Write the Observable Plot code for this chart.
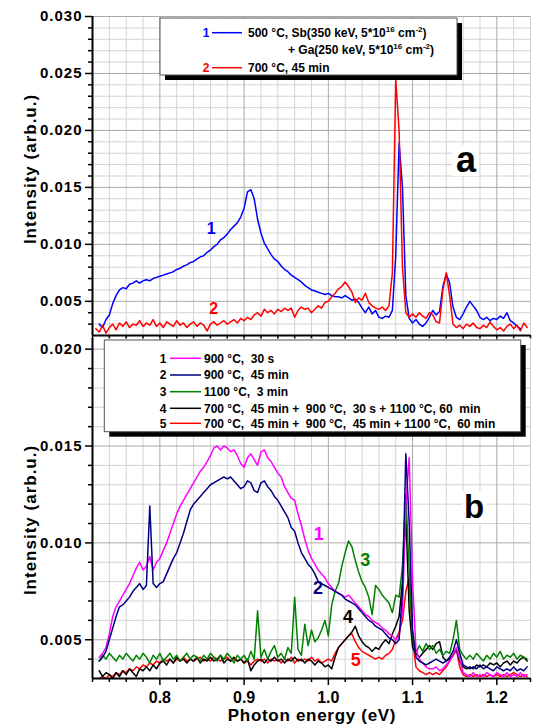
<!DOCTYPE html>
<html><head><meta charset="utf-8">
<script src="https://cdn.jsdelivr.net/npm/d3@7"></script>
<script src="https://cdn.jsdelivr.net/npm/@observablehq/plot@0.6"></script>
<style>
body{margin:0;background:#fff;font-family:"Liberation Sans",Arial,sans-serif;}
#chart{position:relative;width:542px;height:728px;}
#chart svg{display:block;overflow:visible;}
</style></head><body><div id="chart"></div>
<script>
// Photon energy grid (eV)
const energy = [
0.724,0.728,0.732,0.736,0.740,0.744,0.748,0.752,0.756,0.760,
0.764,0.768,0.772,0.776,0.780,0.784,0.788,0.792,0.796,0.800,
0.804,0.808,0.812,0.816,0.820,0.824,0.828,0.832,0.836,0.840,
0.844,0.848,0.852,0.856,0.860,0.864,0.868,0.872,0.876,0.880,
0.884,0.888,0.892,0.896,0.900,0.904,0.908,0.912,0.916,0.920,
0.924,0.928,0.932,0.936,0.940,0.944,0.948,0.952,0.956,0.960,
0.964,0.968,0.972,0.976,0.980,0.984,0.988,0.992,0.996,1.000,
1.004,1.008,1.012,1.016,1.020,1.024,1.028,1.032,1.036,1.040,
1.044,1.048,1.052,1.056,1.060,1.064,1.068,1.072,1.076,1.080,
1.084,1.088,1.092,1.096,1.100,1.104,1.108,1.112,1.116,1.120,
1.124,1.128,1.132,1.136,1.140,1.144,1.148,1.152,1.156,1.160,
1.164,1.168,1.172,1.176,1.180,1.184,1.188,1.192,1.196,1.200,
1.204,1.208,1.212,1.216,1.220,1.224,1.228,1.232,1.236,1.240];

// Panel a, curve 1 (blue)
const a1 = [
null,0.0030,0.0027,0.0034,0.0038,0.0048,0.0055,0.0060,0.0062,0.0061,
0.0065,0.0066,0.0068,0.0066,0.0068,0.0069,0.0068,0.0070,0.0071,0.0072,
0.0073,0.0074,0.0075,0.0076,0.0078,0.0079,0.0081,0.0082,0.0084,0.0085,
0.0087,0.0089,0.0090,0.0093,0.0095,0.0098,0.0100,0.0104,0.0106,0.0109,
0.0113,0.0116,0.0119,0.0124,0.0132,0.0146,0.0148,0.0140,0.0122,0.0110,
0.0101,0.0096,0.0091,0.0087,0.0085,0.0081,0.0078,0.0076,0.0073,0.0071,
0.0069,0.0067,0.0064,0.0062,0.0060,0.0059,0.0058,0.0057,0.0056,0.0057,
0.0055,0.0054,0.0054,0.0053,0.0055,0.0053,0.0051,0.0052,0.0049,0.0044,
0.0040,0.0045,0.0039,0.0042,0.0036,0.0035,0.0037,0.0036,0.0042,0.0090,
0.0189,0.0150,0.0055,0.0035,0.0031,0.0034,0.0030,0.0028,0.0031,0.0036,
0.0042,0.0038,0.0041,0.0063,0.0074,0.0066,0.0045,0.0036,0.0034,0.0039,
0.0045,0.0050,0.0046,0.0042,0.0036,0.0034,0.0036,0.0033,0.0035,0.0034,
0.0037,0.0035,0.0040,0.0033,0.0031,0.0028,0.0026,null,null,null];

// Panel a, curve 2 (red)
const a2 = [
0.0026,0.0023,0.0029,0.0022,0.0027,0.0030,0.0025,0.0031,0.0028,0.0032,
0.0027,0.0030,0.0029,0.0033,0.0028,0.0031,0.0029,0.0034,0.0028,0.0031,
0.0027,0.0032,0.0030,0.0028,0.0033,0.0029,0.0031,0.0027,0.0030,0.0032,
0.0028,0.0031,0.0029,0.0024,0.0030,0.0032,0.0029,0.0031,0.0033,0.0030,
0.0032,0.0034,0.0031,0.0035,0.0033,0.0036,0.0034,0.0038,0.0040,0.0037,
0.0043,0.0040,0.0042,0.0039,0.0043,0.0041,0.0044,0.0042,0.0044,0.0036,
0.0042,0.0045,0.0043,0.0044,0.0040,0.0043,0.0046,0.0044,0.0049,0.0050,
0.0054,0.0057,0.0061,0.0063,0.0067,0.0063,0.0058,0.0049,0.0053,0.0051,
0.0057,0.0049,0.0046,0.0044,0.0043,0.0045,0.0042,0.0046,0.0075,0.0245,
0.0200,0.0080,0.0040,0.0036,0.0039,0.0036,0.0040,0.0037,0.0035,0.0040,
0.0038,0.0032,0.0031,0.0060,0.0075,0.0055,0.0030,0.0027,0.0029,0.0026,
0.0030,0.0028,0.0031,0.0027,0.0026,0.0029,0.0027,0.0032,0.0028,0.0025,
0.0027,0.0024,0.0028,0.0030,0.0026,0.0029,0.0024,0.0031,0.0027,null];

// Panel b, curve 1 (magenta)
const b1 = [
null,0.0041,0.0043,0.0046,0.0053,0.0062,0.0067,0.0070,0.0073,0.0076,
0.0079,0.0083,0.0087,0.0090,0.0086,0.0088,0.0093,0.0086,0.0090,0.0092,
0.0096,0.0100,0.0105,0.0110,0.0115,0.0119,0.0122,0.0125,0.0128,0.0131,
0.0134,0.0137,0.0139,0.0142,0.0145,0.0149,0.0150,0.0148,0.0150,0.0149,
0.0147,0.0148,0.0145,0.0141,0.0139,0.0144,0.0146,0.0143,0.0140,0.0147,
0.0148,0.0144,0.0142,0.0139,0.0136,0.0134,0.0129,0.0126,0.0123,0.0122,
0.0115,0.0109,0.0102,0.0096,0.0092,0.0089,0.0086,0.0084,0.0082,0.0079,
0.0077,0.0075,0.0074,0.0073,0.0072,0.0073,0.0071,0.0069,0.0067,0.0065,
0.0063,0.0062,0.0060,0.0059,0.0058,0.0056,0.0055,0.0053,0.0052,0.0050,
0.0052,0.0065,0.0120,0.0144,0.0080,0.0045,0.0040,0.0038,0.0036,0.0035,
0.0035,0.0036,0.0034,0.0035,0.0037,0.0039,0.0042,0.0046,0.0040,0.0033,
0.0032,0.0031,0.0033,0.0031,0.0032,0.0031,0.0033,0.0032,0.0031,0.0033,
0.0032,0.0031,0.0033,0.0031,0.0032,0.0031,0.0033,0.0031,0.0032,null];

// Panel b, curve 2 (navy)
const b2 = [
null,0.0039,0.0041,0.0044,0.0050,0.0056,0.0062,0.0067,0.0068,0.0070,
0.0072,0.0075,0.0077,0.0079,0.0076,0.0078,0.0119,0.0079,0.0077,0.0079,
0.0080,0.0084,0.0088,0.0092,0.0095,0.0100,0.0105,0.0111,0.0117,0.0120,
0.0122,0.0124,0.0126,0.0128,0.0130,0.0131,0.0132,0.0133,0.0134,0.0133,
0.0134,0.0132,0.0130,0.0128,0.0129,0.0132,0.0131,0.0127,0.0126,0.0131,
0.0132,0.0129,0.0127,0.0124,0.0122,0.0119,0.0116,0.0113,0.0108,0.0106,
0.0100,0.0095,0.0092,0.0089,0.0087,0.0084,0.0080,0.0079,0.0078,0.0077,
0.0076,0.0075,0.0074,0.0073,0.0071,0.0070,0.0069,0.0068,0.0066,0.0064,
0.0062,0.0060,0.0059,0.0057,0.0056,0.0055,0.0053,0.0051,0.0050,0.0048,
0.0050,0.0075,0.0146,0.0110,0.0055,0.0041,0.0039,0.0038,0.0037,0.0038,
0.0039,0.0040,0.0039,0.0038,0.0039,0.0041,0.0044,0.0050,0.0043,0.0037,
0.0036,0.0035,0.0036,0.0035,0.0037,0.0035,0.0036,0.0035,0.0034,0.0036,
0.0035,0.0034,0.0035,0.0034,0.0036,0.0034,0.0035,0.0034,0.0036,null];

// Panel b, curve 3 (green)
const b3 = [
null,0.0039,0.0042,0.0040,0.0043,0.0041,0.0039,0.0042,0.0040,0.0043,
0.0041,0.0039,0.0042,0.0040,0.0043,0.0041,0.0038,0.0042,0.0040,0.0043,
0.0039,0.0041,0.0043,0.0040,0.0042,0.0039,0.0041,0.0043,0.0040,0.0042,
0.0041,0.0039,0.0042,0.0040,0.0043,0.0041,0.0039,0.0042,0.0040,0.0043,
0.0041,0.0038,0.0042,0.0040,0.0042,0.0039,0.0044,0.0040,0.0065,0.0041,
0.0045,0.0040,0.0044,0.0047,0.0041,0.0043,0.0040,0.0046,0.0043,0.0072,
0.0045,0.0042,0.0058,0.0047,0.0055,0.0049,0.0051,0.0055,0.0060,0.0052,
0.0068,0.0075,0.0079,0.0088,0.0095,0.0101,0.0098,0.0091,0.0085,0.0080,
0.0077,0.0072,0.0063,0.0078,0.0076,0.0073,0.0071,0.0069,0.0064,0.0073,
0.0072,0.0088,0.0125,0.0085,0.0052,0.0043,0.0047,0.0044,0.0048,0.0045,
0.0047,0.0043,0.0045,0.0042,0.0044,0.0043,0.0050,0.0060,0.0045,0.0042,
0.0040,0.0042,0.0040,0.0043,0.0041,0.0039,0.0042,0.0040,0.0043,0.0041,
0.0044,0.0040,0.0042,0.0041,0.0043,0.0040,0.0042,0.0041,0.0040,null];

// Panel b, curve 4 (black)
const b4 = [
null,0.0034,0.0031,0.0033,0.0032,0.0030,0.0033,0.0031,0.0034,0.0032,
0.0035,0.0033,0.0031,0.0035,0.0034,0.0036,0.0034,0.0037,0.0035,0.0038,
0.0039,0.0037,0.0040,0.0038,0.0041,0.0039,0.0040,0.0038,0.0040,0.0039,
0.0041,0.0038,0.0040,0.0039,0.0041,0.0039,0.0040,0.0042,0.0038,0.0040,
0.0039,0.0041,0.0039,0.0040,0.0038,0.0040,0.0034,0.0037,0.0039,0.0040,
0.0038,0.0040,0.0039,0.0041,0.0039,0.0040,0.0038,0.0040,0.0039,0.0041,
0.0039,0.0040,0.0038,0.0040,0.0039,0.0037,0.0039,0.0038,0.0036,0.0037,
0.0035,0.0041,0.0046,0.0048,0.0050,0.0052,0.0054,0.0057,0.0052,0.0049,
0.0047,0.0046,0.0044,0.0046,0.0045,0.0048,0.0050,0.0048,0.0053,0.0057,
0.0062,0.0080,0.0115,0.0065,0.0046,0.0043,0.0041,0.0043,0.0045,0.0047,
0.0045,0.0048,0.0049,0.0041,0.0039,0.0040,0.0042,0.0045,0.0039,0.0036,
0.0035,0.0036,0.0035,0.0037,0.0036,0.0037,0.0036,0.0038,0.0037,0.0038,
0.0036,0.0038,0.0039,0.0037,0.0039,0.0038,0.0040,0.0041,0.0039,null];

// Panel b, curve 5 (red)
const b5 = [
null,0.0030,0.0031,0.0030,0.0032,0.0031,0.0033,0.0032,0.0034,0.0033,
0.0035,0.0034,0.0036,0.0035,0.0037,0.0036,0.0038,0.0037,0.0039,0.0038,
0.0040,0.0039,0.0040,0.0038,0.0040,0.0039,0.0041,0.0039,0.0040,0.0039,
0.0040,0.0041,0.0039,0.0040,0.0039,0.0041,0.0040,0.0039,0.0040,0.0041,
0.0039,0.0040,0.0039,0.0040,0.0038,0.0039,0.0037,0.0039,0.0040,0.0039,
0.0040,0.0038,0.0040,0.0039,0.0040,0.0038,0.0040,0.0039,0.0041,0.0038,
0.0040,0.0039,0.0040,0.0039,0.0041,0.0039,0.0040,0.0038,0.0039,0.0040,
0.0039,0.0043,0.0046,0.0048,0.0050,0.0052,0.0053,0.0049,0.0046,0.0044,
0.0043,0.0042,0.0041,0.0040,0.0041,0.0040,0.0042,0.0043,0.0045,0.0050,
0.0054,0.0060,0.0075,0.0082,0.0050,0.0036,0.0034,0.0033,0.0032,0.0033,
0.0032,0.0033,0.0032,0.0034,0.0036,0.0039,0.0042,0.0045,0.0036,0.0032,
0.0031,0.0032,0.0031,0.0032,0.0031,0.0032,0.0031,0.0032,0.0031,0.0032,
0.0031,0.0032,0.0031,0.0032,0.0033,0.0032,0.0031,0.0032,0.0031,null];

// Ticks
const xMajor = [0.8, 0.9, 1.0, 1.1, 1.2];
const xMinor = [0.72,0.74,0.76,0.78,0.82,0.84,0.86,0.88,0.92,0.94,0.96,0.98,1.02,1.04,1.06,1.08,1.12,1.14,1.16,1.18,1.22,1.24];
const yTopMajor = [0.005, 0.010, 0.015, 0.020, 0.025, 0.030];
const yTopMinor = [0.003,0.004,0.006,0.007,0.008,0.009,0.011,0.012,0.013,0.014,0.016,0.017,0.018,0.019,0.021,0.022,0.023,0.024,0.026,0.027,0.028,0.029];
const yBotMajor = [0.005, 0.010, 0.015, 0.020];
const yBotMinor = [0.004,0.006,0.007,0.008,0.009,0.011,0.012,0.013,0.014,0.016,0.017,0.018,0.019];

// Legend texts
const legendTop = ["500 °C, Sb(350 keV, 5*10", "+ Ga(250 keV, 5*10", "700 °C, 45 min"];
const legendBot = ["900 °C,  30 s", "900 °C,  45 min", "1100 °C,  3 min",
  "700 °C,  45 min +  900 °C,  30 s + 1100 °C, 60  min",
  "700 °C,  45 min +  900 °C,  45 min + 1100 °C,  60 min"];
const colorsTop = ["#0000ff", "#ff0000"];
const colorsBot = ["#ff00ff", "#000080", "#008000", "#000000", "#ff0000"];
// curve number labels (data coordinates)
const labelsTop = [{x: 0.861, y: 0.0114, t: "1", c: "#0000ff"}, {x: 0.864, y: 0.0043, t: "2", c: "#ff0000"}];
const labelsBot = [
  {x: 0.9886, y: 0.01046, t: "1", c: "#ff00ff"},
  {x: 0.9877, y: 0.00766, t: "2", c: "#000080"},
  {x: 1.0437, y: 0.00913, t: "3", c: "#008000"},
  {x: 1.0233, y: 0.00615, t: "4", c: "#000000"},
  {x: 1.0324, y: 0.00396, t: "5", c: "#ff0000"}];

const rows = arr => energy.map((x, i) => ({x, y: arr[i]})).filter(d => d.y != null);
const font = '"Liberation Sans", Arial, sans-serif';
const gridMinor = "#d3d3d3", gridMajor = "#a9a9a9";

function frameMarks(yMajor, yMinor) {
  return [
    Plot.gridY(yMinor, {stroke: gridMinor, strokeOpacity: 1}),
    Plot.gridX(xMinor, {stroke: gridMinor, strokeOpacity: 1}),
    Plot.gridY(yMajor, {stroke: gridMajor, strokeOpacity: 1}),
    Plot.gridX(xMajor, {stroke: gridMajor, strokeOpacity: 1}),
  ];
}
function axisMarks(yMajor, yMinor, yMin, withXLabels) {
  return [
    Plot.axisY(yMajor, {tickSize: 7, tickPadding: 3, tickFormat: d3.format(".3f"), fontSize: 15, fontWeight: "bold", label: null, strokeWidth: 1.5}),
    Plot.axisY(yMinor, {tickSize: 4, tickFormat: () => "", label: null, strokeWidth: 1.5}),
    withXLabels
      ? Plot.axisX(xMajor, {tickSize: 7, tickPadding: 6, tickFormat: d3.format(".1f"), fontSize: 16, fontWeight: "bold", label: null, strokeWidth: 1.5})
      : Plot.axisX(xMajor, {tickSize: 7, tickFormat: () => "", label: null, strokeWidth: 1.5}),
    Plot.axisX(xMinor, {tickSize: 4, tickFormat: () => "", label: null, strokeWidth: 1.5}),
    Plot.ruleX([0.72], {stroke: "black", strokeWidth: 2}),
    Plot.ruleY([yMin], {stroke: "black", strokeWidth: 2}),
  ];
}

const topChart = Plot.plot({
  width: 542, height: 338, marginLeft: 92, marginRight: 12, marginTop: 16, marginBottom: 3,
  x: {domain: [0.72, 1.24]}, y: {domain: [0.002, 0.030]},
  style: {fontFamily: font, background: "transparent", overflow: "visible", color: "black"},
  marks: [
    ...frameMarks(yTopMajor, yTopMinor),
    Plot.line(rows(a1), {x: "x", y: "y", stroke: colorsTop[0], strokeWidth: 1.5}),
    Plot.line(rows(a2), {x: "x", y: "y", stroke: colorsTop[1], strokeWidth: 1.5}),
    ...axisMarks(yTopMajor, yTopMinor, 0.002, false),
    Plot.text(labelsTop, {x: "x", y: "y", text: "t", fill: "c", fontSize: 16, fontWeight: "bold", lineAnchor: "middle"})
  ]
});

const botChart = Plot.plot({
  width: 542, height: 390, marginLeft: 92, marginRight: 12, marginTop: 0, marginBottom: 50,
  x: {domain: [0.72, 1.24]}, y: {domain: [0.003, 0.02055]},
  style: {fontFamily: font, background: "transparent", overflow: "visible", color: "black"},
  marks: [
    ...frameMarks(yBotMajor, yBotMinor),
    Plot.line(rows(b5), {x: "x", y: "y", stroke: colorsBot[4], strokeWidth: 1.5}),
    Plot.line(rows(b4), {x: "x", y: "y", stroke: colorsBot[3], strokeWidth: 1.5}),
    Plot.line(rows(b3), {x: "x", y: "y", stroke: colorsBot[2], strokeWidth: 1.5}),
    Plot.line(rows(b1), {x: "x", y: "y", stroke: colorsBot[0], strokeWidth: 1.5}),
    Plot.line(rows(b2), {x: "x", y: "y", stroke: colorsBot[1], strokeWidth: 1.5}),
    ...axisMarks(yBotMajor, yBotMinor, 0.003, true),
    Plot.text(labelsBot, {x: "x", y: "y", text: "t", fill: "c", fontSize: 18, fontWeight: "bold", lineAnchor: "middle"})
  ]
});

const chart = document.getElementById("chart");
chart.appendChild(topChart);
chart.appendChild(botChart);

for (const svg of [topChart, botChart]) {
  d3.select(svg).selectAll('[aria-label="y-axis tick label"] text').style("letter-spacing", "1px");
}

// Y labels
function yLabel(svg, cy) {
  d3.select(svg).append("text")
    .attr("transform", `translate(30,${cy}) rotate(-90)`)
    .attr("text-anchor", "middle").attr("dy", "0.35em")
    .style("font", `bold 17px ${font}`).style("letter-spacing", "1px")
    .text("Intensity (arb.u.)");
}
yLabel(topChart, 169);
yLabel(botChart, 182);

d3.select(botChart).append("text")
  .attr("x", 312).attr("y", 377).attr("text-anchor", "middle").attr("dy", "0.35em")
  .style("font", `bold 17px ${font}`).style("letter-spacing", "0.7px")
  .text("Photon energy (eV)");

// panel letters
function panelLetter(svg, letter, rx, ry, rw, rh, cx, by, fs) {
  const g = d3.select(svg).append("g");
  g.append("rect").attr("x", rx).attr("y", ry).attr("width", rw).attr("height", rh).attr("fill", "white");
  g.append("text").attr("x", cx).attr("y", by).attr("text-anchor", "middle")
    .style("font", `bold ${fs}px ${font}`).text(letter);
}
panelLetter(topChart, "a", 452, 145, 27, 31, 466, 172, 36);
panelLetter(botChart, "b", 462, 153, 25, 32, 474, 180, 33);

// Top legend
{
  const g = d3.select(topChart).append("g").attr("text-anchor", "start").style("font", `bold 12px ${font}`);
  g.append("rect").attr("x", 165).attr("y", 23).attr("width", 297).attr("height", 57).attr("fill", "black");
  g.append("rect").attr("x", 160).attr("y", 18).attr("width", 297).attr("height", 57).attr("fill", "white").attr("stroke", "#555").attr("stroke-width", 1);
  const rowsY = [32.7, 50, 67.7];
  [[0, 0], [1, 2]].forEach(([ci, ri]) => {
    g.append("text").attr("x", 206).attr("y", rowsY[ri]).attr("dy", "0.35em").attr("text-anchor", "middle").attr("fill", colorsTop[ci]).text(String(ci + 1));
    g.append("line").attr("x1", 212).attr("x2", 242).attr("y1", rowsY[ri]).attr("y2", rowsY[ri]).attr("stroke", colorsTop[ci]).attr("stroke-width", 1.5);
  });
  function sciLine(x, y, base) {
    const t = g.append("text").attr("x", x).attr("y", y).attr("dy", "0.35em").attr("text-anchor", "start");
    t.append("tspan").text(base);
    t.append("tspan").attr("dy", "-5").style("font-size", "8px").text("16");
    t.append("tspan").attr("dy", "5").text(" cm");
    t.append("tspan").attr("dy", "-5").style("font-size", "8px").text("-2");
    t.append("tspan").attr("dy", "5").text(")");
  }
  sciLine(248, rowsY[0], legendTop[0]);
  sciLine(288, rowsY[1], legendTop[1]);
  g.append("text").attr("x", 248).attr("y", rowsY[2]).attr("dy", "0.35em").attr("text-anchor", "start").text(legendTop[2]);
}

// Bottom legend
{
  const g = d3.select(botChart).append("g").attr("text-anchor", "start").style("font", `bold 12px ${font}`);
  g.append("rect").attr("x", 109.3).attr("y", 7).attr("width", 416.4).attr("height", 91.7).attr("fill", "black");
  g.append("rect").attr("x", 104.3).attr("y", 2).attr("width", 416.4).attr("height", 91.7).attr("fill", "white").attr("stroke", "#555").attr("stroke-width", 1);
  const rowsY = [20.3, 37, 53.7, 70.3, 85.3];
  legendBot.forEach((txt, i) => {
    g.append("text").attr("x", 163).attr("y", rowsY[i]).attr("dy", "0.35em").attr("text-anchor", "middle").text(String(i + 1));
    g.append("line").attr("x1", 170).attr("x2", 201).attr("y1", rowsY[i]).attr("y2", rowsY[i]).attr("stroke", colorsBot[i]).attr("stroke-width", 1.5);
    g.append("text").attr("x", 204).attr("y", rowsY[i]).attr("dy", "0.35em").attr("text-anchor", "start").style("white-space", "pre").text(txt);
  });
}
</script></body></html>
